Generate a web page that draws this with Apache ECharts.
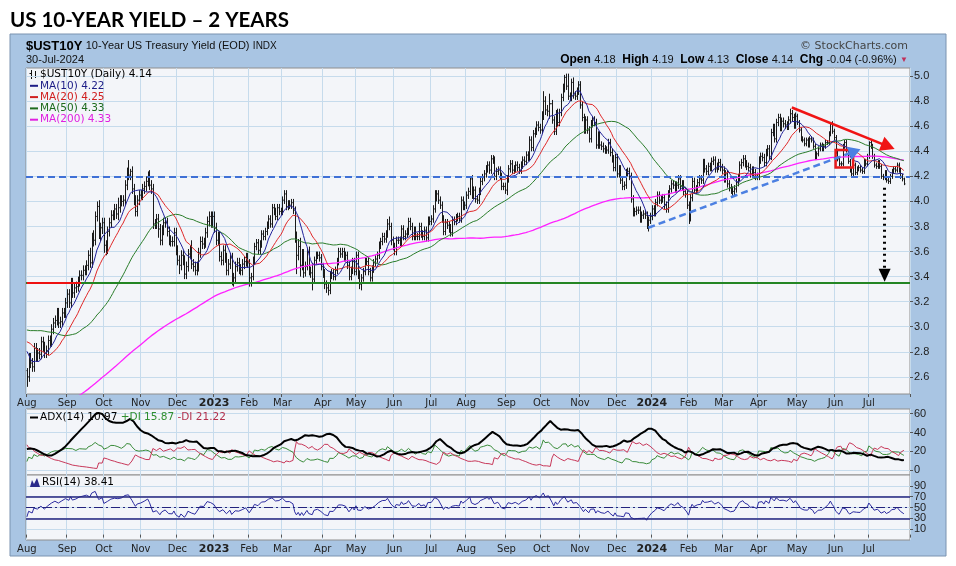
<!DOCTYPE html>
<html><head><meta charset="utf-8">
<script src="https://cdn.jsdelivr.net/npm/echarts@6/dist/echarts.min.js"></script>
<style>html,body{margin:0;padding:0;background:#fff}#c{width:956px;height:566px}</style>
</head><body><div id="c"></div>
<script>
// ---------------- DATA (daily closes, %; high/low extensions in basis points) ----------------
// closes before the chart window (Oct 2021 - May 2022), only used for the moving averages
const preClose = [
1.57,1.58,1.64,1.65,1.70,1.65,1.63,1.61,1.54,1.57,1.56,
1.58,1.55,1.60,1.53,1.45,1.49,1.50,1.56,1.58,1.56,1.61,1.60,1.58,1.54,1.63,1.67,1.64,1.48,1.50,1.44,
1.41,1.45,1.36,1.43,1.48,1.52,1.49,1.48,1.42,1.44,1.46,1.41,1.42,1.40,1.46,1.49,1.49,1.48,1.55,1.51,1.52,
1.63,1.66,1.71,1.73,1.76,1.79,1.75,1.74,1.70,1.77,1.87,1.84,1.83,1.75,1.78,1.78,1.85,1.80,1.77,1.78,
1.79,1.77,1.82,1.93,1.92,1.95,2.03,1.94,2.00,2.04,2.05,1.97,1.93,1.93,1.98,1.97,1.87,1.86,1.83,
1.72,1.86,1.84,1.74,1.78,1.86,1.95,2.00,2.00,2.14,2.16,2.19,2.15,2.32,2.38,2.32,2.36,2.47,2.56,2.41,2.34,2.35,2.33,
2.38,2.43,2.55,2.61,2.66,2.72,2.78,2.72,2.70,2.83,2.86,2.94,2.90,2.91,2.81,2.77,2.82,2.85,2.89,2.93,
2.99,2.97,2.93,3.05,3.12,3.03,2.99,2.92,2.88,2.99,2.89,2.84,2.78,2.86,2.86,2.75,2.75,2.74,2.85,2.79,2.84];

const months = ['2022-06','2022-07','2022-08','2022-09','2022-10','2022-11','2022-12',
'2023-01','2023-02','2023-03','2023-04','2023-05','2023-06','2023-07','2023-08','2023-09','2023-10','2023-11','2023-12',
'2024-01','2024-02','2024-03','2024-04','2024-05','2024-06','2024-07'];
const firstShownMonth = '2022-08';

const closeM = [
[2.94,2.91,2.94,3.04,2.98,3.03,3.04,3.16,3.37,3.48,3.29,3.19,3.23,3.30,3.16,3.09,3.13,3.20,3.20,3.09,3.01],
[2.88,2.81,2.93,3.00,3.08,2.99,2.96,2.91,2.96,2.93,2.99,3.03,3.03,2.91,2.75,2.81,2.80,2.78,2.68,2.65],
[2.60,2.75,2.71,2.68,2.83,2.76,2.79,2.78,2.88,2.84,2.79,2.81,2.89,2.88,2.98,3.03,3.05,3.11,3.03,3.04,3.11,3.11,3.19],
[3.26,3.19,3.35,3.27,3.31,3.32,3.36,3.41,3.41,3.45,3.45,3.49,3.57,3.51,3.71,3.69,3.88,3.96,3.73,3.79,3.83],
[3.65,3.62,3.76,3.83,3.89,3.89,3.94,3.90,3.95,4.01,4.00,4.01,4.13,4.23,4.21,4.24,4.10,4.01,3.92,4.01,4.05],
[4.05,4.10,4.12,4.16,4.21,4.13,4.10,3.82,3.82,3.86,3.78,3.69,3.77,3.83,3.83,3.76,3.69,3.68,3.68,3.75,3.61],
[3.53,3.49,3.57,3.53,3.42,3.48,3.58,3.61,3.50,3.48,3.45,3.48,3.59,3.68,3.66,3.67,3.75,3.84,3.88,3.83,3.88],
[3.79,3.69,3.72,3.56,3.53,3.61,3.55,3.45,3.50,3.55,3.37,3.39,3.48,3.51,3.46,3.45,3.50,3.52,3.55,3.51],
[3.39,3.40,3.53,3.64,3.67,3.61,3.66,3.74,3.72,3.76,3.81,3.86,3.82,3.95,3.92,3.88,3.95,3.92,3.92],
[4.01,4.06,3.96,3.98,3.97,3.99,3.93,3.70,3.57,3.64,3.49,3.58,3.43,3.48,3.60,3.44,3.43,3.38,3.53,3.57,3.57,3.55,3.48],
[3.43,3.34,3.31,3.29,3.41,3.43,3.40,3.45,3.52,3.60,3.58,3.60,3.55,3.57,3.49,3.40,3.45,3.52,3.44],
[3.57,3.42,3.34,3.39,3.44,3.52,3.52,3.44,3.39,3.46,3.51,3.54,3.57,3.65,3.68,3.72,3.70,3.74,3.82,3.80,3.69,3.64],
[3.60,3.69,3.69,3.67,3.78,3.72,3.74,3.76,3.84,3.80,3.72,3.77,3.72,3.72,3.80,3.74,3.72,3.77,3.71,3.85,3.84],
[3.86,3.94,4.04,4.06,4.01,3.97,3.86,3.76,3.83,3.81,3.79,3.75,3.85,3.84,3.87,3.88,3.86,4.01,3.96,3.97],
[4.05,4.08,4.18,4.05,4.09,4.02,4.01,4.08,4.16,4.19,4.22,4.26,4.29,4.25,4.34,4.33,4.20,4.24,4.25,4.20,4.12,4.12,4.09],
[4.18,4.26,4.30,4.25,4.26,4.29,4.27,4.25,4.29,4.33,4.32,4.37,4.35,4.49,4.43,4.54,4.56,4.61,4.59,4.57],
[4.68,4.80,4.73,4.72,4.78,4.78,4.65,4.56,4.70,4.63,4.71,4.83,4.90,4.99,4.92,4.84,4.83,4.95,4.85,4.84,4.88,4.93],
[4.77,4.67,4.57,4.65,4.57,4.50,4.62,4.65,4.63,4.45,4.53,4.45,4.44,4.42,4.41,4.41,4.47,4.39,4.34,4.27,4.35],
[4.22,4.26,4.17,4.12,4.13,4.23,4.24,4.20,4.02,3.91,3.92,3.93,3.93,3.86,3.89,3.90,3.89,3.79,3.85,3.88],
[3.94,3.91,3.99,4.05,4.01,4.02,4.03,3.97,3.94,4.06,4.10,4.14,4.13,4.10,4.13,4.18,4.12,4.14,4.08,4.06,3.97],
[3.87,4.03,4.16,4.09,4.10,4.15,4.18,4.17,4.31,4.26,4.24,4.28,4.27,4.32,4.33,4.26,4.28,4.31,4.27,4.25],
[4.18,4.22,4.14,4.11,4.09,4.08,4.10,4.15,4.19,4.29,4.31,4.34,4.30,4.28,4.27,4.22,4.25,4.23,4.20,4.20],
[4.33,4.36,4.35,4.31,4.39,4.42,4.36,4.55,4.59,4.50,4.63,4.67,4.59,4.64,4.62,4.61,4.60,4.65,4.70,4.67,4.61,4.68],
[4.63,4.57,4.50,4.49,4.46,4.49,4.45,4.50,4.49,4.44,4.35,4.38,4.42,4.45,4.42,4.44,4.47,4.47,4.54,4.62,4.56,4.51],
[4.40,4.34,4.30,4.30,4.44,4.47,4.41,4.32,4.25,4.22,4.29,4.23,4.26,4.27,4.25,4.24,4.32,4.30,4.36],
[4.47,4.44,4.36,4.29,4.28,4.31,4.28,4.20,4.19,4.23,4.17,4.16,4.20,4.24,4.26,4.25,4.29,4.25,4.20,4.18,4.14]];

// intraday high above max(open,close), in basis points
const hiExtM = [
[4,4,4,4,4,4,4,4,8,6,4,4,4,4,4,4,4,4,4,4,4],
[4,4,4,4,4,4,4,4,4,4,4,4,4,4,4,4,4,4,4,4],
[2,4,4,4,4,4,4,4,4,4,4,4,4,4,4,4,4,4,4,4,4,4,4],
[4,4,4,4,4,4,4,4,4,4,4,4,4,6,4,6,4,4,5,4,4],
[4,4,4,4,4,4,4,4,8,4,4,4,4,4,10,2,4,4,4,4,4],
[4,4,4,4,3,4,4,4,4,4,4,4,4,4,4,4,4,4,4,4,4],
[4,4,4,4,4,4,4,4,8,4,4,4,4,4,4,4,4,4,4,4,4],
[4,4,4,4,4,4,4,4,4,4,4,4,4,4,4,4,4,4,4,4],
[3,3,3,3,3,3,3,3,3,3,3,3,3,3,3,3,3,3,3],
[3,3,3,3,3,3,3,3,6,6,7,4,4,4,3,4,4,8,3,3,3,3,3],
[3,3,3,3,3,3,3,3,3,3,3,3,3,3,3,3,3,3,3],
[3,3,3,3,3,3,3,3,3,3,3,3,3,3,3,3,3,3,4,6,3,3],
[3,3,3,3,3,3,3,3,3,3,3,3,3,3,3,3,3,3,3,3,3],
[3,3,5,3,3,3,3,3,3,3,3,3,3,3,3,3,3,3,3,3],
[3,3,2,3,3,3,3,3,3,3,3,3,3,3,3,3,3,3,3,3,3,3,3],
[3,3,3,3,3,3,3,3,3,3,3,3,3,3,3,3,3,3,3,3],
[4,8,4,4,8,0,3,3,3,4,3,3,4,2,3,10,3,3,4,3,3,3],
[3,3,3,3,3,3,3,3,3,3,3,3,3,3,3,3,3,3,3,3,3],
[3,3,3,3,3,3,3,3,3,3,3,3,3,3,3,3,3,3,3,3],
[3,3,3,3,3,3,3,3,3,3,3,3,3,3,3,3,3,3,3,3,3],
[3,3,3,3,3,3,3,3,3,3,3,3,3,3,3,3,3,3,3,3],
[3,3,3,3,3,3,3,3,3,3,3,3,3,3,3,3,3,3,3,3],
[3,3,3,3,3,3,3,3,3,3,3,3,3,3,3,3,3,3,4,3,3,3],
[2,2,2,2,2,2,2,2,2,2,2,2,2,2,2,2,2,2,2,1,2,2],
[2,2,2,2,2,2,2,2,2,2,2,2,2,2,2,2,2,2,2],
[1,2,2,2,2,2,2,2,2,2,2,2,2,2,2,2,2,2,2,2,1]];

// intraday low below min(open,close), in basis points
const loExtM = [
[4,4,4,4,4,4,4,4,4,4,6,4,4,4,4,4,4,4,4,4,4],
[4,4,4,4,4,4,4,4,4,4,4,4,4,4,4,4,4,4,4,4],
[8,4,4,4,4,4,4,4,4,4,4,4,4,4,4,4,4,4,4,4,4,4,4],
[4,4,4,4,4,4,4,4,4,4,4,4,4,4,4,5,4,4,3,5,5],
[6,5,4,4,4,4,4,4,5,4,4,4,4,4,4,4,4,4,4,4,4],
[4,4,4,4,4,4,4,4,4,4,7,4,4,4,4,4,4,4,4,4,4],
[4,7,4,4,4,4,4,4,4,4,4,4,4,4,4,4,4,4,4,4,4],
[4,4,4,4,4,4,4,4,4,4,4,5,4,4,4,4,4,4,4,4],
[7,7,3,3,3,3,3,3,3,3,3,3,3,3,3,3,3,3,3],
[3,3,3,3,3,3,3,3,15,4,9,4,4,3,3,3,4,9,3,3,3,3,3],
[4,4,4,4,3,3,3,3,3,3,3,3,3,3,3,3,3,3,3],
[3,4,4,5,3,3,3,3,3,3,3,3,3,3,3,3,3,3,3,3,4,3],
[3,3,3,3,3,3,3,3,3,3,3,3,3,3,3,3,3,3,3,3,3],
[3,3,3,4,3,3,3,3,3,3,4,3,3,3,3,3,3,3,3,3],
[3,3,3,3,3,3,3,3,3,3,3,3,3,3,3,3,3,3,3,3,3,3,3],
[4,3,3,3,3,3,3,3,3,3,3,3,3,3,3,3,3,3,3,3],
[3,3,4,4,6,0,3,3,3,3,3,3,3,3,3,3,3,3,3,3,3,3],
[3,3,3,3,3,3,3,3,3,3,3,3,3,3,3,3,3,3,3,3,3],
[3,3,3,3,3,3,3,3,3,3,3,3,3,3,3,3,3,1,3,3],
[3,3,3,3,3,3,3,3,3,3,3,3,3,3,3,3,3,3,3,3,3],
[5,3,3,3,3,3,3,3,3,3,3,3,3,3,3,3,3,3,3,3],
[3,3,3,3,3,4,3,3,3,3,3,3,3,3,3,3,3,3,3,3],
[3,3,3,3,3,3,3,3,3,3,3,3,3,3,3,3,3,3,3,3,3,3],
[2,2,2,2,2,2,2,2,2,2,2,2,2,2,2,2,2,2,2,2,2,2],
[2,2,2,2,2,2,2,2,2,2,2,2,2,2,2,2,2,2,2],
[2,2,2,2,2,2,2,2,2,2,2,2,2,2,2,2,2,2,2,2,1]];

// price-panel tick labels and indicator tick labels
const priceTicks = [2.6,2.8,3.0,3.2,3.4,3.6,3.8,4.0,4.2,4.4,4.6,4.8,5.0];
const adxTicks = [0,20,40,60];
const rsiTicks = [10,30,50,70,90];
const monthNames = ['Jan','Feb','Mar','Apr','May','Jun','Jul','Aug','Sep','Oct','Nov','Dec'];

// annotations drawn on the chart, in data space: [month, trading day (1-based), value]
const redTrend = [['2024-04',20,4.75],['2024-07',12,4.44]];
const blueTrend = [['2023-12',19,3.79],['2024-06',12,4.40]];
const dottedArrow = [['2024-07',10,4.11],['2024-07',10,3.41]];
const redBox = [['2024-06',1,4.41],['2024-06',11,4.27]];
const redLevel = [['2022-08',1,3.35],['2022-09',9,3.35]];
const blueLevel = 4.2, greenLevel = 3.35;

// ---------------- BUILD ----------------
const C = preClose.slice(), O = [], H = [], L = [];
preClose.forEach(() => { O.push(null); H.push(null); L.push(null); });
const P = preClose.length;
const monthStartFull = {};
months.forEach((m, mi) => {
  monthStartFull[m] = C.length;
  closeM[mi].forEach((c, d) => {
    const o = C[C.length - 1];
    const h = Math.max(o, c) + ((hiExtM[mi] || [])[d] || 0) / 100;
    const l = Math.min(o, c) - ((loExtM[mi] || [])[d] || 0) / 100;
    C.push(c); O.push(o); H.push(+h.toFixed(2)); L.push(+l.toFixed(2));
  });
});
const S = monthStartFull[firstShownMonth];
const N = C.length - S;
const PAD = 3;

function sma(n) {
  const out = []; let s = 0;
  for (let k = 0; k < C.length; k++) { s += C[k]; if (k >= n) s -= C[k - n]; out.push(k >= n - 1 ? s / n : null); }
  return out;
}
function rsi(n) {
  const out = new Array(C.length).fill(null); let ag = 0, al = 0;
  for (let k = 1; k < C.length; k++) {
    const ch = C[k] - C[k - 1], g = Math.max(ch, 0), l = Math.max(-ch, 0);
    if (k <= n) { ag += g; al += l; if (k === n) { ag /= n; al /= n; out[k] = al === 0 ? 100 : 100 - 100 / (1 + ag / al); } }
    else { ag = (ag * (n - 1) + g) / n; al = (al * (n - 1) + l) / n; out[k] = al === 0 ? 100 : 100 - 100 / (1 + ag / al); }
  }
  return out;
}
function adx(n) {
  const pdi = new Array(C.length).fill(null), mdi = pdi.slice(), ax = pdi.slice();
  let trS = 0, pS = 0, mS = 0, cnt = 0, dxs = [], a = null;
  for (let k = P + 1; k < C.length; k++) {
    const tr = Math.max(H[k] - L[k], Math.abs(H[k] - C[k - 1]), Math.abs(L[k] - C[k - 1]));
    const up = H[k] - H[k - 1], dn = L[k - 1] - L[k];
    const pdm = (up > dn && up > 0) ? up : 0, mdm = (dn > up && dn > 0) ? dn : 0;
    cnt++;
    if (cnt <= n) { trS += tr; pS += pdm; mS += mdm; }
    else { trS = trS - trS / n + tr; pS = pS - pS / n + pdm; mS = mS - mS / n + mdm; }
    if (cnt >= n) {
      const p = 100 * pS / trS, m = 100 * mS / trS;
      pdi[k] = p; mdi[k] = m;
      const dx = (p + m) ? 100 * Math.abs(p - m) / (p + m) : 0;
      if (a === null) { dxs.push(dx); if (dxs.length === n) a = dxs.reduce((x, y) => x + y, 0) / n; }
      else a = (a * (n - 1) + dx) / n;
      ax[k] = a;
    }
  }
  return { pdi, mdi, ax };
}
const ma10 = sma(10), ma20 = sma(20), ma50 = sma(50), ma200 = sma(200);
const r14 = rsi(14);
const dmi = adx(14);
const view = arr => arr.slice(S).map(v => v == null ? null : +v.toFixed(4));

// categories
const cats = [], monthStartIdx = new Set(), labelOf = {};
months.forEach((m, mi) => {
  const st = monthStartFull[m] - S;
  closeM[mi].forEach((c, d) => { const i = st + d; if (i >= 0) cats.push(m + '#' + (d + 1)); });
  if (st >= 0) {
    monthStartIdx.add(st);
    const mo = +m.slice(5, 7);
    labelOf[st] = mo === 1 ? '{y|' + m.slice(0, 4) + '}' : monthNames[mo - 1];
  }
});
for (let p = 0; p < PAD; p++) cats.push('pad' + p);
const at = (m, d) => monthStartFull[m] - S + d - 1;
const ohlc = [];
for (let i = 0; i < N; i++) { const k = S + i; ohlc.push([i, O[k], H[k], L[k], C[k]]); }

const last = C.length - 1;
const f2 = v => (Math.round(v * 100 + 1e-9) / 100).toFixed(2);
const chg = C[last] - C[last - 1];

// ---------------- CHART ----------------
const chart = echarts.init(document.getElementById('c'), null, { renderer: 'canvas' });
const GRID_BG = '#f3f5f9', GRID_LINE = '#c6dbec', AX_FONT = 'Liberation Sans, Arial, sans-serif', LG_FONT = 'DejaVu Sans, Verdana, sans-serif';
const monthFn = (i) => monthStartIdx.has(i);

function xAxisFor(gi, showLabel) {
  return {
    type: 'category', gridIndex: gi, data: cats, boundaryGap: true,
    axisLine: { show: false },
    axisTick: { show: showLabel, interval: monthFn, length: 3, lineStyle: { color: '#555' } },
    splitLine: { show: true, interval: monthFn, lineStyle: { color: GRID_LINE, width: 1 } },
    axisLabel: {
      show: showLabel, interval: monthFn, margin: 4, color: '#222', fontFamily: LG_FONT, fontSize: 10,
      formatter: (v, i) => labelOf[i] || '',
      rich: { y: { fontWeight: 'bold', fontSize: 11, color: '#222', fontFamily: LG_FONT } }
    }
  };
}
function yAxisFor(gi, min, max, ticks, fmt) {
  return {
    type: 'value', gridIndex: gi, position: 'right', min, max, scale: true,
    axisLine: { show: false },
    axisTick: { show: true, length: 3, customValues: ticks, lineStyle: { color: '#555' } },
    axisLabel: { customValues: ticks, margin: 4, color: '#222', fontFamily: AX_FONT, fontSize: 11, formatter: fmt },
    splitLine: { show: true, lineStyle: { color: GRID_LINE, width: 1 } }
  };
}
const ptOf = (a) => ({ coord: [at(a[0], a[1]), a[2]] });

const option = {
  animation: false,
  backgroundColor: '#ffffff',
  grid: [
    { left: 26, top: 68, width: 884, height: 326, show: true, backgroundColor: GRID_BG, borderColor: '#8e8e8e', borderWidth: 1 },
    { left: 26, top: 409, width: 884, height: 66, show: true, backgroundColor: GRID_BG, borderColor: '#8e8e8e', borderWidth: 1 },
    { left: 26, top: 475, width: 884, height: 65, show: true, backgroundColor: GRID_BG, borderColor: '#8e8e8e', borderWidth: 1 }
  ],
  xAxis: [xAxisFor(0, true), xAxisFor(1, false), xAxisFor(2, true)],
  yAxis: [
    yAxisFor(0, 2.463, 5.065, priceTicks, v => v.toFixed(1)),
    yAxisFor(1, -5, 65, adxTicks, v => String(v)),
    yAxisFor(2, -10, 110, rsiTicks, v => String(v))
  ],
  graphic: [
    { type: 'rect', z: -100, silent: true, shape: { x: 10, y: 34, width: 936, height: 522 }, style: { fill: '#a9c5e3', stroke: '#7a93b0', lineWidth: 1 } },
    { type: 'text', z: 100, silent: true, style: { x: 10, y: 20, text: 'US 10-YEAR YIELD \u2013 2 YEARS', font: 'bold 20.5px Lato, "Open Sans", sans-serif', fill: '#000', verticalAlign: 'middle', textVerticalAlign: 'middle' } },
    { type: 'text', z: 100, silent: true, style: { x: 26, y: 46, text: '{a|$UST10Y} {b|10-Year US Treasury Yield (EOD)} {c|INDX}', verticalAlign: 'middle', textVerticalAlign: 'middle',
      rich: { a: { font: 'bold 13px ' + AX_FONT, fill: '#000', color: '#000' }, b: { font: '11px ' + AX_FONT, fill: '#111', color: '#111' }, c: { font: '10px ' + AX_FONT, fill: '#111', color: '#111' } } } },
    { type: 'text', z: 100, silent: true, style: { x: 26, y: 60, text: '30-Jul-2024', font: '11px ' + AX_FONT, fill: '#111', verticalAlign: 'middle', textVerticalAlign: 'middle' } },
    { type: 'text', z: 100, silent: true, style: { x: 908, y: 46, text: '\u00a9 StockCharts.com', font: '11px ' + LG_FONT, fill: '#444', align: 'right', textAlign: 'right', verticalAlign: 'middle', textVerticalAlign: 'middle' } },
    { type: 'text', z: 100, silent: true, style: { x: 908, y: 60, align: 'right', textAlign: 'right', verticalAlign: 'middle', textVerticalAlign: 'middle',
      text: '{b|Open} {v|' + f2(O[last]) + '}  {b|High} {v|' + f2(H[last]) + '}  {b|Low} {v|' + f2(L[last]) + '}  {b|Close} {v|' + f2(C[last]) + '}  {b|Chg} {v|' + f2(chg) + ' (' + (100 * chg / C[last - 1]).toFixed(2) + '%)} {r|\u25BC}',
      rich: { b: { font: 'bold 12px ' + AX_FONT, fill: '#000', color: '#000' }, v: { font: '11px ' + AX_FONT, fill: '#111', color: '#111' }, r: { font: '8px ' + AX_FONT, fill: '#c0305a', color: '#c0305a' } } } },
    // price legend
    { type: 'group', z: 100, silent: true, children: [
      { type: 'line', shape: { x1: 31.5, y1: 70, x2: 31.5, y2: 79 }, style: { stroke: '#111', lineWidth: 1 } },
      { type: 'line', shape: { x1: 29.5, y1: 73.5, x2: 31.5, y2: 73.5 }, style: { stroke: '#111', lineWidth: 1 } },
      { type: 'line', shape: { x1: 35.5, y1: 71, x2: 35.5, y2: 78 }, style: { stroke: '#111', lineWidth: 1 } },
      { type: 'line', shape: { x1: 35.5, y1: 76.5, x2: 37.5, y2: 76.5 }, style: { stroke: '#111', lineWidth: 1 } }
    ] },
    { type: 'text', z: 100, silent: true, style: { x: 40, y: 74.5, text: '$UST10Y (Daily) ' + f2(C[last]), font: '10.5px ' + LG_FONT, fill: '#000', verticalAlign: 'middle', textVerticalAlign: 'middle' } },
    ...[['MA(10) ' + f2(ma10[last]), '#1c1c86', 85.8], ['MA(20) ' + f2(ma20[last]), '#d02020', 97.1], ['MA(50) ' + f2(ma50[last]), '#1d6b1d', 108.4], ['MA(200) ' + f2(ma200[last]), '#e020e0', 119.7]]
      .flatMap(([t, col, y]) => [
        { type: 'rect', z: 100, silent: true, shape: { x: 30, y: y - 1, width: 8, height: 2 }, style: { fill: col } },
        { type: 'text', z: 100, silent: true, style: { x: 40, y, text: t, font: '10.5px ' + LG_FONT, fill: col, verticalAlign: 'middle', textVerticalAlign: 'middle' } }
      ]),
    // ADX legend
    { type: 'rect', z: 100, silent: true, shape: { x: 30, y: 416.5, width: 8, height: 2 }, style: { fill: '#000' } },
    { type: 'text', z: 100, silent: true, style: { x: 40, y: 417.7, verticalAlign: 'middle', textVerticalAlign: 'middle',
      text: '{k|ADX(14) ' + f2(dmi.ax[last]) + '} {g|+DI ' + f2(dmi.pdi[last]) + '} {r|-DI ' + f2(dmi.mdi[last]) + '}',
      rich: { k: { font: '10.5px ' + LG_FONT, fill: '#000', color: '#000' }, g: { font: '10.5px ' + LG_FONT, fill: '#2f8f2f', color: '#2f8f2f' }, r: { font: '10.5px ' + LG_FONT, fill: '#b3304c', color: '#b3304c' } } } },
    // RSI legend
    { type: 'polygon', z: 100, silent: true, shape: { points: [[30, 487], [32, 480], [34, 484], [37, 478], [40, 487]] }, style: { fill: '#2a2a8a' } },
    { type: 'text', z: 100, silent: true, style: { x: 42, y: 482.5, text: 'RSI(14) ' + f2(r14[last]), font: '10.5px ' + LG_FONT, fill: '#000', verticalAlign: 'middle', textVerticalAlign: 'middle' } }
  ],
  series: [
    {
      type: 'custom', xAxisIndex: 0, yAxisIndex: 0, data: ohlc, encode: { x: 0, y: [1, 2, 3, 4] }, z: 2, silent: true,
      renderItem: (params, api) => {
        const i = api.value(0);
        const xc = Math.round(api.coord([i, 0])[0]) + 0.5;
        const yo = api.coord([i, api.value(1)])[1], yh = api.coord([i, api.value(2)])[1];
        const yl = api.coord([i, api.value(3)])[1], yc = api.coord([i, api.value(4)])[1];
        const st = { stroke: '#1a1a1a', lineWidth: 1 };
        return { type: 'group', children: [
          { type: 'line', shape: { x1: xc, y1: yh, x2: xc, y2: yl }, style: st },
          { type: 'line', shape: { x1: xc - 1, y1: yo, x2: xc, y2: yo }, style: st },
          { type: 'line', shape: { x1: xc, y1: yc, x2: xc + 1, y2: yc }, style: st }
        ] };
      }
    },
    { type: 'line', xAxisIndex: 0, yAxisIndex: 0, data: view(ma200), showSymbol: false, symbol: 'none', lineStyle: { color: '#ff22ff', width: 1.3 }, z: 3, silent: true },
    { type: 'line', xAxisIndex: 0, yAxisIndex: 0, data: view(ma50), showSymbol: false, symbol: 'none', lineStyle: { color: '#2a7d2a', width: 1 }, z: 3, silent: true },
    { type: 'line', xAxisIndex: 0, yAxisIndex: 0, data: view(ma20), showSymbol: false, symbol: 'none', lineStyle: { color: '#e02828', width: 1 }, z: 3, silent: true },
    { type: 'line', xAxisIndex: 0, yAxisIndex: 0, data: view(ma10), showSymbol: false, symbol: 'none', lineStyle: { color: '#22229a', width: 1 }, z: 3, silent: true,
      markLine: {
        silent: true, symbol: ['none', 'none'], label: { show: false }, z: 10, animation: false,
        data: [
          { yAxis: blueLevel, lineStyle: { color: '#3f70d6', type: [7, 4], width: 2 } },
          { yAxis: greenLevel, lineStyle: { color: '#238523', type: 'solid', width: 2 } },
          [Object.assign(ptOf(redLevel[0]), { lineStyle: { color: '#ee1111', type: 'solid', width: 2 } }), ptOf(redLevel[1])],
          [Object.assign(ptOf(blueTrend[0]), { lineStyle: { color: '#4c80e2', type: [7, 4], width: 2.5 } }), Object.assign(ptOf(blueTrend[1]), { symbol: 'triangle', symbolSize: [14, 12] })],
          [Object.assign(ptOf(redTrend[0]), { lineStyle: { color: '#f01414', type: 'solid', width: 2.5 } }), Object.assign(ptOf(redTrend[1]), { symbol: 'triangle', symbolSize: [15, 14] })],
          [Object.assign(ptOf(dottedArrow[0]), { lineStyle: { color: '#000', type: [2, 4], width: 3, cap: 'butt' } }), Object.assign(ptOf(dottedArrow[1]), { symbol: 'triangle', symbolSize: [12, 13] })]
        ]
      },
      markArea: {
        silent: true, z: 10,
        data: [[Object.assign(ptOf(redBox[0]), { itemStyle: { color: 'rgba(0,0,0,0)', borderColor: '#e81a1a', borderWidth: 2.5 } }), ptOf(redBox[1])]]
      }
    },
    // ADX panel
    { type: 'line', xAxisIndex: 1, yAxisIndex: 1, data: view(dmi.pdi), showSymbol: false, symbol: 'none', lineStyle: { color: '#3a8c3a', width: 1 }, silent: true },
    { type: 'line', xAxisIndex: 1, yAxisIndex: 1, data: view(dmi.mdi), showSymbol: false, symbol: 'none', lineStyle: { color: '#c8385a', width: 1 }, silent: true },
    { type: 'line', xAxisIndex: 1, yAxisIndex: 1, data: view(dmi.ax), showSymbol: false, symbol: 'none', lineStyle: { color: '#000', width: 2 }, silent: true },
    // RSI panel
    { type: 'line', xAxisIndex: 2, yAxisIndex: 2, data: view(r14), showSymbol: false, symbol: 'none', lineStyle: { color: '#2b2ba0', width: 1 }, silent: true,
      markLine: { silent: true, symbol: ['none', 'none'], label: { show: false }, animation: false,
        data: [
          { yAxis: 70, lineStyle: { color: '#23237e', width: 1.5, type: 'solid' } },
          { yAxis: 30, lineStyle: { color: '#23237e', width: 1.5, type: 'solid' } },
          { yAxis: 50, lineStyle: { color: '#23237e', width: 1.2, type: [9, 3, 2, 3] } }
        ] } }
  ]
};
chart.setOption(option);
</script>
</body></html>
